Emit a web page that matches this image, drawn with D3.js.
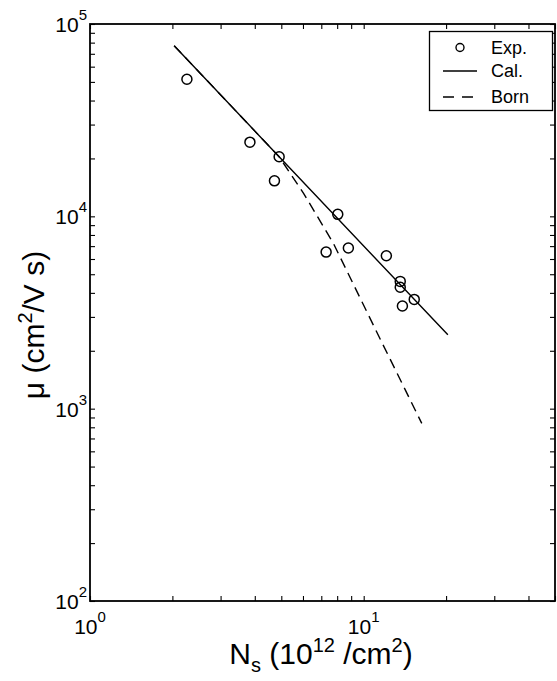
<!DOCTYPE html>
<html>
<head>
<meta charset="utf-8">
<script src="https://cdn.jsdelivr.net/npm/d3@7"></script>
<style>
  html, body { margin: 0; padding: 0; background: #fff; }
  svg { display: block; }
  text { font-family: "Liberation Sans", Arial, Helvetica, sans-serif; fill: #000; }
</style>
</head>
<body>
<svg id="chart" width="557" height="681"></svg>
<script>
// Measured Hall mobility vs. sheet carrier density
const expN  = [2.26, 3.84, 4.91, 4.72, 8.04, 7.29, 8.79, 12.1, 13.6, 13.6, 15.3, 13.85];
const expMu = [51600, 24300, 20400, 15300, 10240, 6520, 6840, 6240, 4590, 4280, 3700, 3420];

// Full calculation
const calN  = [2.03, 4.91, 20.3];
const calMu = [77100, 20400, 2420];

// Born approximation
const bornN  = [2.03, 4.91, 6.03, 7.75, 11.38, 16.3];
const bornMu = [77100, 20400, 13180, 7240, 2366, 839];

// Axis ticks
const xMajor = [1, 10];
const xMinor = [2, 3, 4, 5, 6, 7, 8, 9, 20, 30, 40, 50];
const yMajor = [100, 1000, 10000, 100000];
const yMinor = [200, 300, 400, 500, 600, 700, 800, 900,
                2000, 3000, 4000, 5000, 6000, 7000, 8000, 9000,
                20000, 30000, 40000, 50000, 60000, 70000, 80000, 90000];
const xTickExp = [0, 1];
const yTickExp = [2, 3, 4, 5];

const legendLabels = ["Exp.", "Cal.", "Born"];

const svg = d3.select("#chart");
const L = 90, R = 555, T = 24, B = 601;

const x = d3.scaleLog().domain([1, 50]).range([L, R]);
const y = d3.scaleLog().domain([100, 100000]).range([B, T]);

const allX = xMajor.concat(xMinor);
const allY = yMajor.concat(yMinor);
const tk = 5;

function styleAxis(g) {
  g.select(".domain").remove();
  g.selectAll("line").attr("stroke", "#000").attr("stroke-width", 1.1);
}

// inward ticks on all four sides
svg.append("g").attr("transform", `translate(0,${B})`)
  .call(d3.axisBottom(x).tickValues(allX).tickSize(-tk).tickFormat(""))
  .call(styleAxis);
svg.append("g").attr("transform", `translate(0,${T})`)
  .call(d3.axisTop(x).tickValues(allX).tickSize(-tk).tickFormat(""))
  .call(styleAxis);
svg.append("g").attr("transform", `translate(${L},0)`)
  .call(d3.axisLeft(y).tickValues(allY).tickSize(-tk).tickFormat(""))
  .call(styleAxis);
svg.append("g").attr("transform", `translate(${R},0)`)
  .call(d3.axisRight(y).tickValues(allY).tickSize(-tk).tickFormat(""))
  .call(styleAxis);

// frame
svg.append("rect")
  .attr("x", L).attr("y", T).attr("width", R - L).attr("height", B - T)
  .attr("fill", "none").attr("stroke", "#000").attr("stroke-width", 1.8);

// tick labels as powers of ten
xMajor.forEach((v, i) => {
  const t = svg.append("text")
    .attr("x", x(v)).attr("y", 634)
    .attr("text-anchor", "middle")
    .style("font-size", "21px");
  t.append("tspan").text("10");
  t.append("tspan").attr("dy", -12).style("font-size", "15px").text(xTickExp[i]);
});
yMajor.forEach((v, i) => {
  const t = svg.append("text")
    .attr("x", L - 3).attr("y", y(v) + 8)
    .attr("text-anchor", "end")
    .style("font-size", "21px");
  t.append("tspan").text("10");
  t.append("tspan").attr("dy", -12).style("font-size", "15px").text(yTickExp[i]);
});

// axis titles
const xt = svg.append("text")
  .attr("x", 321).attr("y", 664)
  .attr("text-anchor", "middle")
  .style("font-size", "30px");
xt.append("tspan").text("N");
xt.append("tspan").attr("dy", 8).style("font-size", "20px").text("s");
xt.append("tspan").attr("dy", -8).text(" (10");
xt.append("tspan").attr("dy", -12).style("font-size", "20px").text("12");
xt.append("tspan").attr("dy", 12).text(" /cm");
xt.append("tspan").attr("dy", -12).style("font-size", "20px").text("2");
xt.append("tspan").attr("dy", 12).text(")");

const yt = svg.append("text")
  .attr("transform", `translate(44,325) rotate(-90)`)
  .attr("text-anchor", "middle")
  .style("font-size", "30px");
yt.append("tspan").text("\u03bc (cm");
yt.append("tspan").attr("dy", -12).style("font-size", "20px").text("2");
yt.append("tspan").attr("dy", 12).text("/V s)");

// curves
const line = d3.line().x(d => x(d[0])).y(d => y(d[1]));
const calPts = calN.map((n, i) => [n, calMu[i]]);
const bornPts = bornN.map((n, i) => [n, bornMu[i]]);

svg.append("path").datum(bornPts)
  .attr("d", line)
  .attr("fill", "none").attr("stroke", "#000").attr("stroke-width", 1.4)
  .attr("stroke-dasharray", "10,6");
svg.append("path").datum(calPts)
  .attr("d", line)
  .attr("fill", "none").attr("stroke", "#000").attr("stroke-width", 1.4);

// experimental points
svg.append("g").selectAll("circle")
  .data(expN.map((n, i) => [n, expMu[i]]))
  .join("circle")
  .attr("cx", d => x(d[0])).attr("cy", d => y(d[1]))
  .attr("r", 5)
  .attr("fill", "none").attr("stroke", "#000").attr("stroke-width", 1.5);

// legend
const lg = svg.append("g");
lg.append("rect")
  .attr("x", 429.5).attr("y", 31.5).attr("width", 123).attr("height", 79)
  .attr("fill", "#fff").attr("stroke", "#000").attr("stroke-width", 1.3);
const rows = [47.5, 71, 97];
lg.append("circle").attr("cx", 460).attr("cy", rows[0]).attr("r", 4)
  .attr("fill", "none").attr("stroke", "#000").attr("stroke-width", 1.4);
lg.append("line").attr("x1", 443).attr("x2", 477).attr("y1", rows[1]).attr("y2", rows[1])
  .attr("stroke", "#000").attr("stroke-width", 1.4);
lg.append("line").attr("x1", 443).attr("x2", 477).attr("y1", rows[2]).attr("y2", rows[2])
  .attr("stroke", "#000").attr("stroke-width", 1.4).attr("stroke-dasharray", "11,8");
legendLabels.forEach((s, i) => {
  lg.append("text").attr("x", 491).attr("y", rows[i] + 6)
    .style("font-size", "18px").text(s);
});
</script>
</body>
</html>
